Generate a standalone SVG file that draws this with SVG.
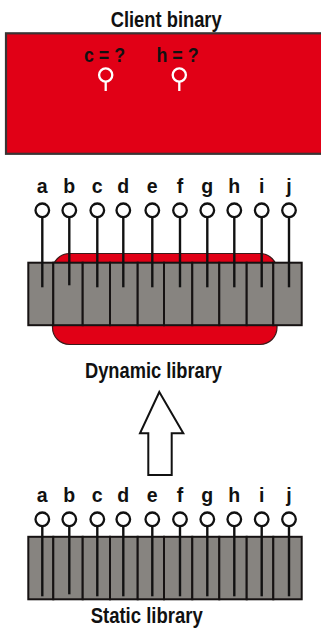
<svg xmlns="http://www.w3.org/2000/svg" width="321" height="628" viewBox="0 0 321 628">
<style>
.t{font-family:"Liberation Sans Narrow","Liberation Sans",Arial,sans-serif;font-weight:bold;fill:#111}
.lbl{font-size:21.5px}
.pin{font-size:19.5px;text-anchor:middle}
.pc{fill:#fff;stroke:#111;stroke-width:2.3}
.ps{stroke:#111;stroke-width:2.4}
.cell{fill:#878480;stroke:#161212;stroke-width:2}
.red{fill:#e10016}
</style>
<defs>
<g id="pinrow">
<g class="ps">
<line x1="42.3" y1="0" x2="42.3" y2="77"/>
<line x1="69.3" y1="0" x2="69.3" y2="75"/>
<line x1="97.3" y1="0" x2="97.3" y2="77"/>
<line x1="123.3" y1="0" x2="123.3" y2="77"/>
<line x1="152.3" y1="0" x2="152.3" y2="77"/>
<line x1="180" y1="0" x2="180" y2="77"/>
<line x1="207.3" y1="0" x2="207.3" y2="77"/>
<line x1="234.3" y1="0" x2="234.3" y2="77"/>
<line x1="261.7" y1="0" x2="261.7" y2="77"/>
<line x1="289" y1="0" x2="289" y2="77"/>
</g>
<g class="pc">
<circle cx="42.3" cy="0" r="6.8"/>
<circle cx="69.3" cy="0" r="6.8"/>
<circle cx="97.3" cy="0" r="6.8"/>
<circle cx="123.3" cy="0" r="6.8"/>
<circle cx="152.3" cy="0" r="6.8"/>
<circle cx="180" cy="0" r="6.8"/>
<circle cx="207.3" cy="0" r="6.8"/>
<circle cx="234.3" cy="0" r="6.8"/>
<circle cx="261.7" cy="0" r="6.8"/>
<circle cx="289" cy="0" r="6.8"/>
</g>
<g class="t pin">
<text x="42.3" y="-17">a</text>
<text x="69.3" y="-17">b</text>
<text x="97.3" y="-17">c</text>
<text x="123.3" y="-17">d</text>
<text x="152.3" y="-17">e</text>
<text x="180" y="-17">f</text>
<text x="207.3" y="-17">g</text>
<text x="234.3" y="-17">h</text>
<text x="261.7" y="-17">i</text>
<text x="289" y="-17">j</text>
</g>
</g>
<g id="cells">
<rect class="cell" x="28.3" y="0" width="25" height="62.5"/>
<rect class="cell" x="53.3" y="0" width="29.4" height="62.5"/>
<rect class="cell" x="82.7" y="0" width="27.3" height="62.5"/>
<rect class="cell" x="110" y="0" width="27.7" height="62.5"/>
<rect class="cell" x="137.7" y="0" width="26.3" height="62.5"/>
<rect class="cell" x="164" y="0" width="28.3" height="62.5"/>
<rect class="cell" x="192.3" y="0" width="27" height="62.5"/>
<rect class="cell" x="219.3" y="0" width="27.4" height="62.5"/>
<rect class="cell" x="246.7" y="0" width="26.6" height="62.5"/>
<rect class="cell" x="273.3" y="0" width="28.4" height="62.5"/>
</g>
</defs>

<g id="client">
<text class="t lbl" x="110.7" y="26.5" textLength="111" lengthAdjust="spacingAndGlyphs">Client binary</text>
<rect class="red" x="6" y="33.3" width="320" height="120.5" stroke="#3a3333" stroke-width="2.2"/>
<text class="t" font-size="20" x="84" y="62" textLength="41" lengthAdjust="spacingAndGlyphs">c = ?</text>
<text class="t" font-size="20" x="156.5" y="62" textLength="42" lengthAdjust="spacingAndGlyphs">h = ?</text>
<g stroke="#fff" stroke-width="2.3" fill="none">
<circle cx="105.7" cy="75" r="6.6"/>
<line x1="105.7" y1="81.5" x2="105.7" y2="91"/>
<circle cx="179.3" cy="75" r="6.6"/>
<line x1="179.3" y1="81.5" x2="179.3" y2="91"/>
</g>
</g>

<g id="dynamic">
<rect class="red" x="52.5" y="253.5" width="224.5" height="91" rx="17" stroke="#3a1a1a" stroke-width="1.2"/>
<use href="#cells" y="262.7"/>
<use href="#pinrow" y="210.3"/>
<text class="t lbl" x="85" y="377.5" textLength="137" lengthAdjust="spacingAndGlyphs">Dynamic library</text>
</g>

<g id="connectors">
<polygon points="159.3,392 183.3,433.3 171.7,433.3 171.7,475 148.3,475 148.3,433.3 140,433.3" fill="#fff" stroke="#111" stroke-width="2" stroke-linejoin="miter"/>
</g>

<g id="static">
<use href="#cells" y="536.8"/>
<use href="#pinrow" y="519.3"/>
<text class="t lbl" x="90.7" y="623" textLength="112" lengthAdjust="spacingAndGlyphs">Static library</text>
</g>
</svg>
